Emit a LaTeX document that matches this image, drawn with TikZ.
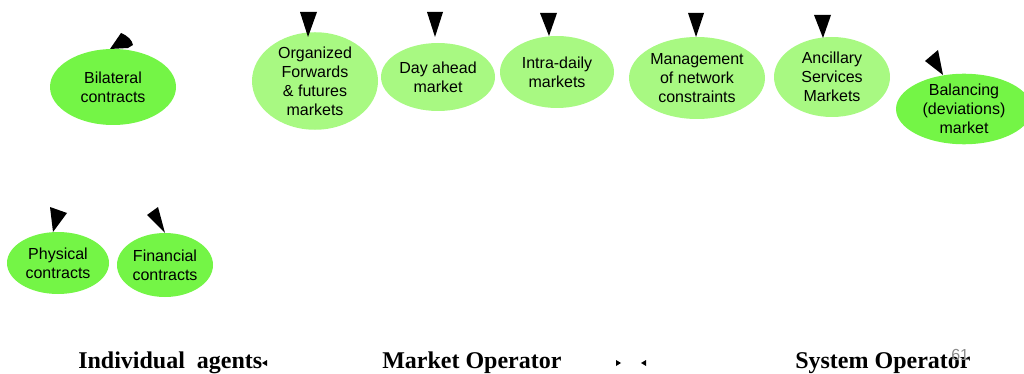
\documentclass[tikz,border=0pt]{standalone}
\usepackage{fontspec}
\setmainfont{Liberation Sans}
\newfontfamily\serifbold{Liberation Serif}
\usetikzlibrary{shapes.geometric}
\definecolor{brightgreen}{HTML}{74F546}
\definecolor{palegreen}{HTML}{A8F982}
\definecolor{pagegrey}{HTML}{8A8A8A}
\begin{document}
\begin{tikzpicture}[x=0.75pt,y=-0.75pt,
  bubble/.style 2 args={ellipse, inner sep=0pt, align=center,
    minimum width=#1*0.75pt, minimum height=#2*0.75pt,
    font=\fontsize{12pt}{14.3pt}\selectfont},
  agentbubble/.style={fill=brightgreen},
  marketbubble/.style={fill=palegreen},
  tipmark/.style={fill=black, draw=none},
  heading/.style={font=\serifbold\bfseries\fontsize{18pt}{20pt}\selectfont, anchor=base west, inner sep=0pt}]
\useasboundingbox (0,0) rectangle (1024,374);

% contract and market bubbles
\node[bubble={126}{76}, agentbubble]  (bil)  at (113,87)  {Bilateral\\contracts};
\node[bubble={126}{88}, marketbubble] (fwd)  at (315,81)  {Organized\\Forwards\\\& futures\\markets};
\node[bubble={114}{68}, marketbubble] (day)  at (438,77)  {Day ahead\\market};
\node[bubble={114}{72}, marketbubble] (intra) at (557,72) {Intra-daily\\markets};
\node[bubble={136}{82}, marketbubble] (net)  at (697,78)  {Management\\of network\\constraints};
\node[bubble={116}{80}, marketbubble] (anc)  at (832,77)  {Ancillary\\Services\\Markets};
\node[bubble={136}{68}, agentbubble]  (bal)  at (964,109) {Balancing\\(deviations)\\market};
\node[bubble={102}{62}, agentbubble]  (phys) at (58,263)  {Physical\\contracts};
\node[bubble={96}{64},  agentbubble]  (fin)  at (165,265) {Financial\\contracts};

% arrow tips resting on the bubbles
\fill[tipmark] (110,49) -- (121,33) .. controls (128,36) and (132,40) .. (133,45) -- (128,48) -- cycle;
\fill[tipmark] (300,12) -- (317,12) -- (308,37) -- cycle;
\fill[tipmark] (427,12) -- (443,12) -- (435,37) -- cycle;
\fill[tipmark] (540,13) -- (557,13) -- (549,36) -- cycle;
\fill[tipmark] (688,13) -- (704,13) -- (696,37) -- cycle;
\fill[tipmark] (814,15) -- (831,15) -- (823,38) -- cycle;
\fill[tipmark] (925,61) -- (938,50) -- (943,75) -- cycle;
\fill[tipmark] (50,207) -- (67,213) -- (53,232) -- cycle;
\fill[tipmark] (147,215) -- (158,207) -- (165,233) -- cycle;

% group headings
\node[heading] (agents) at (78,368)  {Individual\ \ agents};
\node[heading] (mo)     at (382,368) {Market Operator};
\node[heading] (so)     at (795,368) {System Operator};
\node[anchor=base west, inner sep=0pt, text=pagegrey, font=\fontsize{12pt}{14pt}\selectfont] (pg) at (951,360) {61};

% small pointers between the headings
\fill[tipmark] (267,360) -- (267,366) -- (262,363) -- cycle;
\fill[tipmark] (616,360) -- (616,366) -- (621,363) -- cycle;
\fill[tipmark] (646,360) -- (646,366) -- (641,363) -- cycle;
\end{tikzpicture}
\end{document}
